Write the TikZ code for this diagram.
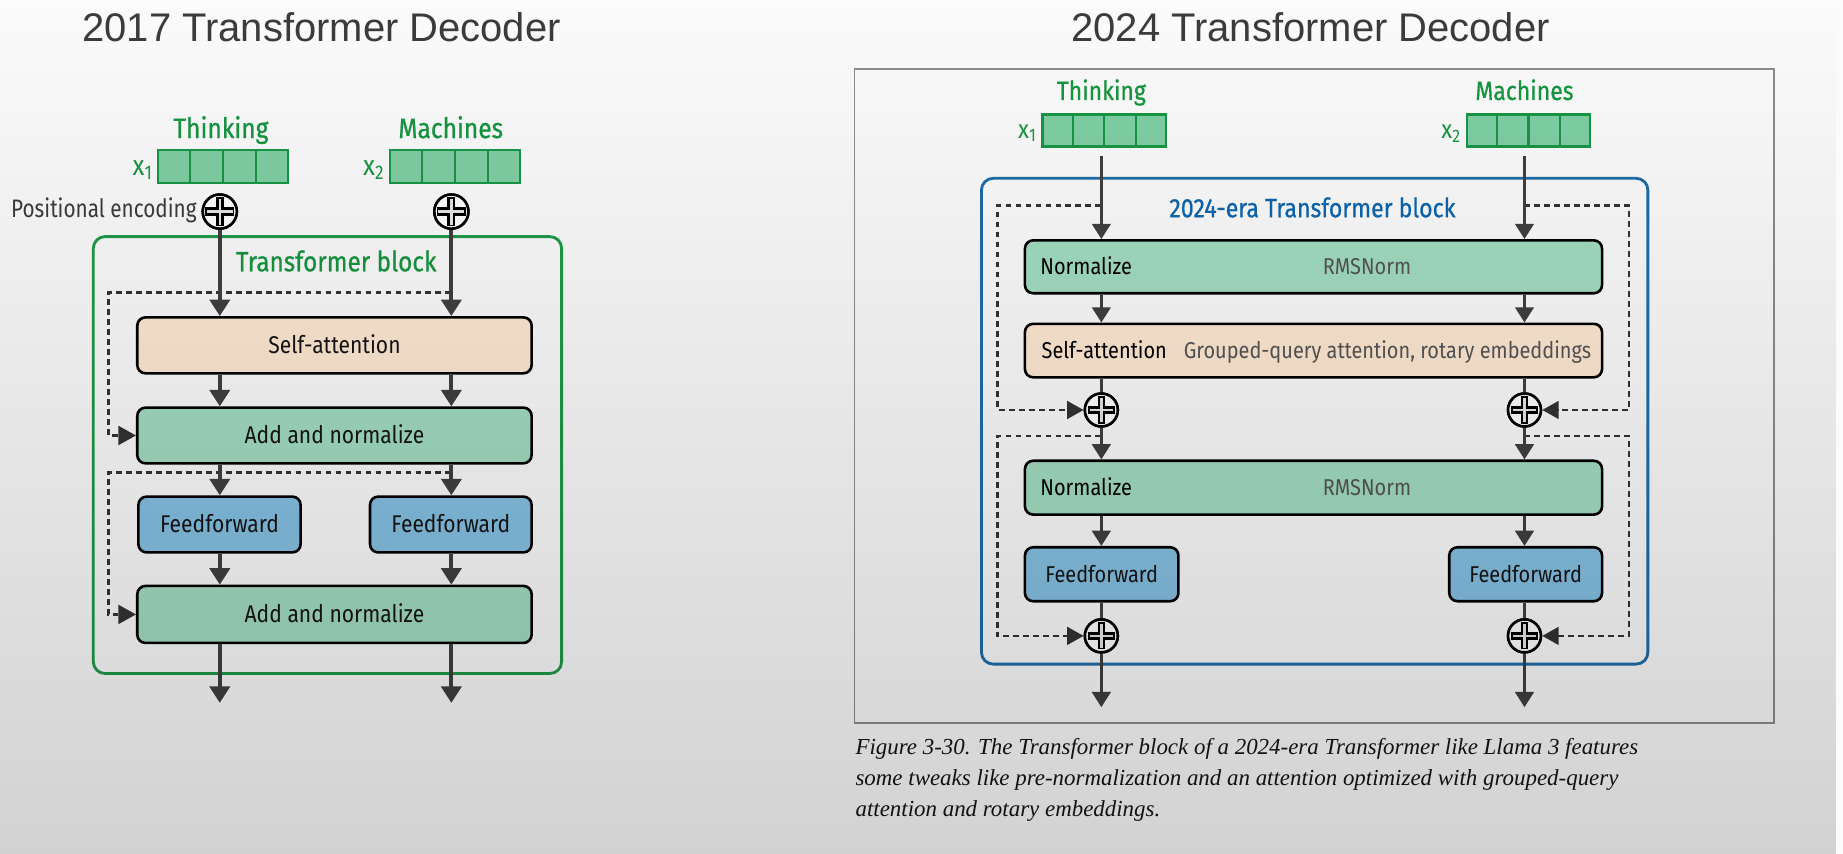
\documentclass[tikz,border=0pt]{standalone}
\usepackage{fontspec}
\newfontfamily\diag{Fira Sans}[FakeStretch=0.87]
\newfontfamily\diagc{Fira Sans}[FakeStretch=0.82]
\newfontfamily\diagb{Fira Sans}[FakeStretch=0.87,FakeBold=0.7]
\newfontfamily\titlef{Liberation Sans}
\newfontfamily\capf{Liberation Serif}
\usetikzlibrary{arrows.meta,fadings,calc}
\definecolor{bgc}{HTML}{FBFBFB}
\definecolor{peach}{HTML}{FFE9D3}
\definecolor{mint}{HTML}{A2DDC1}
\definecolor{ffblue}{HTML}{86C1E4}
\definecolor{tokfill}{HTML}{80CFA4}
\definecolor{tokline}{HTML}{189646}
\definecolor{gtext}{HTML}{16963F}
\definecolor{gborder}{HTML}{1E9A4A}
\definecolor{bborder}{HTML}{1F6DAA}
\definecolor{btext}{HTML}{0E66AE}
\definecolor{arrowc}{HTML}{404040}
\definecolor{dashc}{HTML}{333333}
\definecolor{framec}{HTML}{8C8C8C}
\definecolor{titlec}{HTML}{3C3C3C}
\definecolor{txt}{HTML}{151515}
\definecolor{subtxt}{HTML}{555555}
\definecolor{crossin}{HTML}{E6E6E6}
\newcommand\crossat[4]{%
  \draw[line width=#4pt, black] ([xshift=-#2pt]#1.center) -- ([xshift=#2pt]#1.center);
  \draw[line width=#4pt, black] ([yshift=-#2pt]#1.center) -- ([yshift=#2pt]#1.center);
  \draw[line width=2pt, crossin] ([xshift=-#3pt]#1.center) -- ([xshift=#3pt]#1.center);
  \draw[line width=2pt, crossin] ([yshift=-#3pt]#1.center) -- ([yshift=#3pt]#1.center);
}
\tikzset{
  box/.style={draw=black, line width=2.2pt, rounded corners=7pt, inner sep=0pt, text=txt},
  lblL/.style={font=\diag\fontsize{20.6}{24}\selectfont, text height=14.2pt, text depth=0pt},
  lblR/.style={font=\diag\fontsize{19.5}{23}\selectfont, text height=13.4pt, text depth=0pt, inner sep=0pt},
  sabox/.style={box, fill=peach},
  anbox/.style={box, fill=mint},
  ffbox/.style={box, fill=ffblue},
  tok/.style={draw=tokline, fill=tokfill, line width=2pt, inner sep=0pt},
  cellline/.style={draw=tokline, line width=2pt},
  glbl/.style={font=\diagb\fontsize{24}{28}\selectfont, text=gtext, inner sep=0pt, text height=16.5pt, text depth=0pt},
  glblR/.style={font=\diagb\fontsize{22.5}{26}\selectfont, text=gtext, inner sep=0pt, text height=15.5pt, text depth=0pt},
  xlbl/.style={font=\diag\fontsize{24}{28}\selectfont, text=gtext, inner sep=0pt},
  xlblR/.style={font=\diag\fontsize{22}{26}\selectfont, text=gtext, inner sep=0pt},
  gblock/.style={draw=gborder, line width=2.4pt, rounded corners=10pt, inner sep=0pt},
  bblock/.style={draw=bborder, line width=2.4pt, rounded corners=10pt, inner sep=0pt},
  gtitle/.style={font=\diagb\fontsize{23.8}{28}\selectfont, text=gtext, inner sep=0pt, text height=16.4pt, text depth=0pt},
  btitle/.style={font=\diagb\fontsize{22.6}{26}\selectfont, text=btext, inner sep=0pt, text height=15.6pt, text depth=0pt},
  plusL/.style={circle, draw=black, fill=white, line width=2.2pt, minimum size=29pt, inner sep=0pt},
  plusR/.style={circle, draw=black, fill=white, line width=2.2pt, minimum size=28pt, inner sep=0pt},
  arrL/.style={draw=arrowc, line width=3.3pt, -{Triangle[width=17pt,length=14pt]}},
  arrR/.style={draw=arrowc, line width=3pt, -{Triangle[width=15.6pt,length=13pt]}},
  lineR/.style={draw=arrowc, line width=3pt},
  skipL/.style={draw=dashc, line width=2.4pt, dash pattern=on 5pt off 3.5pt, -{Triangle[width=16pt,length=15pt]}},
  skipR/.style={draw=dashc, line width=2.3pt, dash pattern=on 5pt off 3.5pt, -{Triangle[width=15pt,length=14pt]}},
  titlefont/.style={font=\titlef\fontsize{34}{40}\selectfont, text=titlec, inner sep=0pt},
  capfont/.style={font=\capf\itshape\fontsize{19.5}{24}\selectfont, text=txt, inner sep=0pt},
  posl/.style={font=\diagc\fontsize{21.5}{26}\selectfont, text=titlec, inner sep=0pt, text height=14.8pt, text depth=0pt},
}
\begin{document}
\begin{tikzpicture}[x=1pt,y=-1pt]
\useasboundingbox (0,0) rectangle (1568,726.5);
\fill[bgc] (0,0) rectangle (1568,726.5);

% ---------------- titles
\node[titlefont, anchor=base] (t1) at (273.6,35.5) {2017 Transformer Decoder};
\node[titlefont, anchor=base] (t2) at (1115,35.5) {2024 Transformer Decoder};

% ================= LEFT (2017)
\node[gblock, minimum width=398.4pt, minimum height=371.7pt] (BL) at (278.6,387.15) {};
\node[gtitle] (BLt) at (286,222.6) {Transformer block};

\node[tok, minimum width=110.5pt, minimum height=28pt] (tA) at (189.75,141.65) {};
\node[tok, minimum width=110.5pt, minimum height=28pt] (tB) at (387.1,141.65) {};
\node[glbl] (wA) at (188,109.2) {Thinking};
\node[glbl] (wB) at (383.5,109.2) {Machines};
\node[xlbl, anchor=base east] (xA) at (130,149) {x\textsubscript{1}};
\node[xlbl, anchor=base east] (xB) at (327,149) {x\textsubscript{2}};

\node[plusL] (pA) at (187,180) {};
\node[plusL] (pB) at (384,180) {};
\node[posl, anchor=east] (pe) at (167.5,178) {Positional encoding};

\node[sabox, lblL, minimum width=335.5pt, minimum height=47.6pt] (SA) at (284.55,293.8) {Self-attention};
\node[anbox, lblL, minimum width=335.5pt, minimum height=47.4pt] (AN1) at (284.55,370.5) {Add and normalize};
\node[ffbox, lblL, minimum width=138pt, minimum height=47.5pt] (FF1) at (186.75,446.25) {Feedforward};
\node[ffbox, lblL, minimum width=137.5pt, minimum height=47.5pt] (FF2) at (383.55,446.25) {Feedforward};
\node[anbox, lblL, minimum width=335.5pt, minimum height=48.5pt] (AN2) at (284.55,522.75) {Add and normalize};

\coordinate (s1) at (384,249);
\coordinate (s1L) at (92,249);
\coordinate (s2) at (384,402);
\coordinate (s2L) at (92,402);
\coordinate (oA) at (187,598);
\coordinate (oB) at (384,598);

\draw[skipL] (s1) -- (s1L) |- (AN1.west);
\draw[skipL] (s2) -- (s2L) |- (AN2.west);

\draw[arrL] (pA.south) -- (pA |- SA.north);
\draw[arrL] (pB.south) -- (pB |- SA.north);
\draw[arrL] (pA |- SA.south) -- (pA |- AN1.north);
\draw[arrL] (pB |- SA.south) -- (pB |- AN1.north);
\draw[arrL] (pA |- AN1.south) -- (pA |- FF1.north);
\draw[arrL] (pB |- AN1.south) -- (pB |- FF2.north);
\draw[arrL] (pA |- FF1.south) -- (pA |- AN2.north);
\draw[arrL] (pB |- FF2.south) -- (pB |- AN2.north);
\draw[arrL] (pA |- AN2.south) -- (oA);
\draw[arrL] (pB |- AN2.south) -- (oB);

% ================= RIGHT (2024)
\node[draw=framec, line width=1.5pt, minimum width=782pt, minimum height=556.8pt, inner sep=0pt] (FR) at (1118,336.9) {};
\node[bblock, minimum width=567pt, minimum height=413.3pt] (BR) at (1118.5,358.35) {};
\node[btitle] (BRt) at (1116.6,177) {2024-era Transformer block};

\node[tok, minimum width=105pt, minimum height=27pt] (tC) at (939.5,111) {};
\node[tok, minimum width=105pt, minimum height=27pt] (tD) at (1300.5,111) {};
\node[glblR] (wC) at (937,77.3) {Thinking};
\node[glblR] (wD) at (1297,77.3) {Machines};
\node[xlblR, anchor=base east] (xC) at (882,117.5) {x\textsubscript{1}};
\node[xlblR, anchor=base east] (xD) at (1243,117.5) {x\textsubscript{2}};

\node[anbox, minimum width=491pt, minimum height=45pt] (N1) at (1117.5,227) {};
\node[lblR, anchor=west] (N1a) at (885,227) {Normalize};
\node[lblR, text=subtxt] (N1b) at (1163,227) {RMSNorm};

\node[sabox, minimum width=491pt, minimum height=45.5pt] (SA2) at (1117.5,298.25) {};
\node[lblR, anchor=west] (SA2a) at (886,298.25) {Self-attention};
\node[lblR, anchor=west, text=subtxt] (SA2b) at (1007,298.25) {Grouped-query attention, rotary embeddings};

\node[plusR] (qC) at (937,348.8) {};
\node[plusR] (qD) at (1297,348.8) {};

\node[anbox, minimum width=491pt, minimum height=45.8pt] (N2) at (1117.5,414.9) {};
\node[lblR, anchor=west] (N2a) at (885,414.9) {Normalize};
\node[lblR, text=subtxt] (N2b) at (1163,414.9) {RMSNorm};

\node[ffbox, lblR, minimum width=130.6pt, minimum height=45.9pt] (FFC) at (937.3,488.55) {Feedforward};
\node[ffbox, lblR, minimum width=130pt, minimum height=45.9pt] (FFD) at (1298,488.55) {Feedforward};

\node[plusR] (rC) at (937,541) {};
\node[plusR] (rD) at (1297,541) {};

\coordinate (iC) at (937,133);
\coordinate (iD) at (1297,133);
\coordinate (oC) at (937,601.7);
\coordinate (oD) at (1297,601.7);
\coordinate (u1) at (937,175);
\coordinate (u1L) at (848.5,175);
\coordinate (u2) at (1297,175);
\coordinate (u2R) at (1386,175);
\coordinate (v1) at (937,371);
\coordinate (v1L) at (848.5,371);
\coordinate (v2) at (1297,371);
\coordinate (v2R) at (1386,371);

\draw[skipR] (u1) -- (u1L) |- (qC.west);
\draw[skipR] (u2) -- (u2R) |- (qD.east);
\draw[skipR] (v1) -- (v1L) |- (rC.west);
\draw[skipR] (v2) -- (v2R) |- (rD.east);

\draw[arrR] (iC) -- (iC |- N1.north);
\draw[arrR] (iD) -- (iD |- N1.north);
\draw[arrR] (iC |- N1.south) -- (iC |- SA2.north);
\draw[arrR] (iD |- N1.south) -- (iD |- SA2.north);
\draw[lineR] (iC |- SA2.south) -- (qC.north);
\draw[lineR] (iD |- SA2.south) -- (qD.north);
\draw[arrR] (qC.south) -- (qC |- N2.north);
\draw[arrR] (qD.south) -- (qD |- N2.north);
\draw[arrR] (qC |- N2.south) -- (qC |- FFC.north);
\draw[arrR] (qD |- N2.south) -- (qD |- FFD.north);
\draw[lineR] (qC |- FFC.south) -- (rC.north);
\draw[lineR] (qD |- FFD.south) -- (rD.north);
\draw[arrR] (rC.south) -- (oC);
\draw[arrR] (rD.south) -- (oD);

% redraw plus circles on top of lines
\foreach \p in {pA,pB} {\node[plusL] at (\p) {};}
\foreach \p in {qC,qD,rC,rD} {\node[plusR] at (\p) {};}
\crossat{pA}{12.5}{11}{7}
\crossat{pB}{12.5}{11}{7}
\crossat{qC}{11.5}{10}{6.5}
\crossat{qD}{11.5}{10}{6.5}
\crossat{rC}{11.5}{10}{6.5}
\crossat{rD}{11.5}{10}{6.5}

% token cells
\foreach \t in {tA,tB,tC,tD} {
  \foreach \i in {1,2,3} {
    \draw[cellline] ($(\t.north west)!\i/4!(\t.north east)$) -- ($(\t.south west)!\i/4!(\t.south east)$);
  }
}

% caption
\node[capfont, anchor=base west] (c1) at (727.7,642.3) {Figure 3-30. The Transformer block of a 2024-era Transformer like Llama 3 features};
\node[capfont, anchor=base west] (c2) at (727.7,668.5) {some tweaks like pre-normalization and an attention optimized with grouped-query};
\node[capfont, anchor=base west] (c3) at (727.7,695) {attention and rotary embeddings.};

% screen gradient
\fill[black, fill opacity=0.16, path fading=north] (0,0) rectangle (1568,726.5);
\end{tikzpicture}
\end{document}
